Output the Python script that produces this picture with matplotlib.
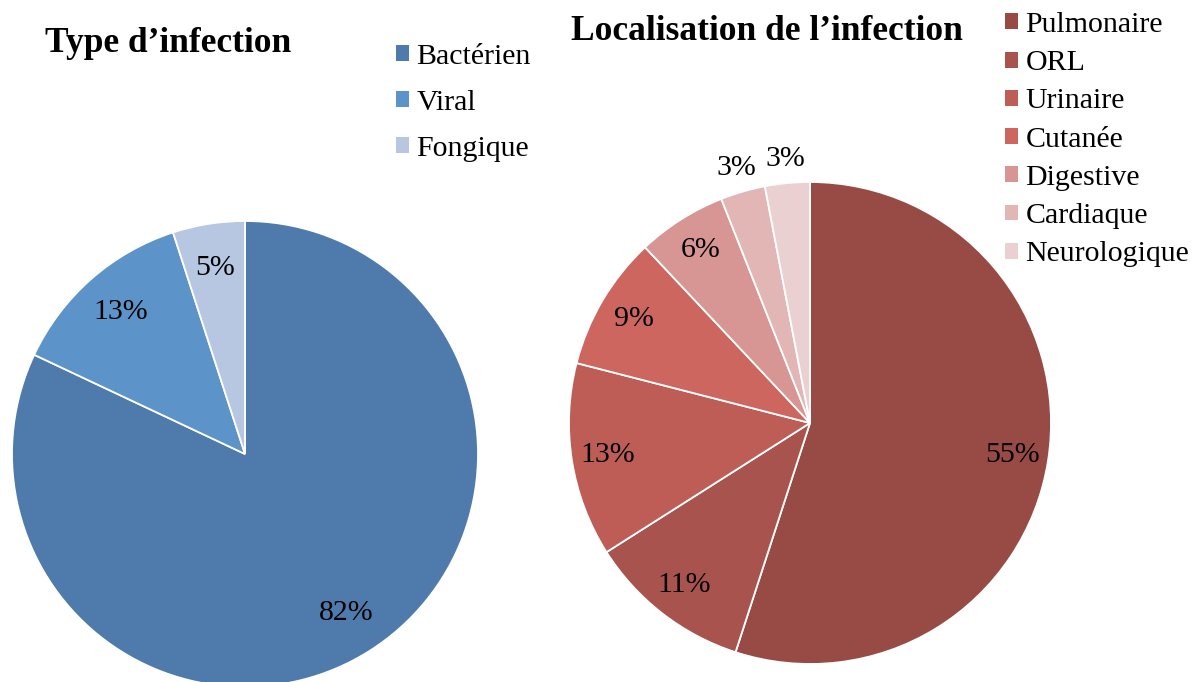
import numpy as np
import matplotlib.pyplot as plt
from matplotlib.patches import Patch

plt.rcParams['font.family'] = ['Liberation Serif', 'DejaVu Serif']

# data
type_labels = ['Bactérien', 'Viral', 'Fongique']
type_values = [82, 13, 5]
type_colors = ['#4F7BAC', '#5C94C9', '#B7C7E1']

loc_labels = ['Pulmonaire', 'ORL', 'Urinaire', 'Cutanée', 'Digestive', 'Cardiaque', 'Neurologique']
loc_values = [55, 11, 13, 9, 6, 3, 3]
loc_colors = ['#984A44', '#A9534E', '#BD5D56', '#CC665E', '#D79693', '#E1B6B5', '#EAD0D1']

W, H = 1200, 682
FS = 21.5
fig = plt.figure(figsize=(12, 6.82), dpi=100)

def pie_axes(cx, cy, r):
    ax = fig.add_axes([(cx - r) / W, (H - cy - r) / H, 2 * r / W, 2 * r / H])
    return ax

def fmt(p):
    return '%d%%' % round(p)

# left pie
ax1 = pie_axes(245, 454, 233)
w1, t1, a1 = ax1.pie(type_values, colors=type_colors, startangle=90, counterclock=False,
                     autopct=fmt, pctdistance=0.81, radius=1,
                     wedgeprops=dict(edgecolor='white', linewidth=1.3),
                     textprops=dict(fontsize=FS, color='black'))
ax1.set_xlim(-1, 1)
ax1.set_ylim(-1, 1)
ax1.set_aspect('auto')
ax1.axis('off')

# right pie
ax2 = pie_axes(810, 423, 241)
w2, t2, a2 = ax2.pie(loc_values, colors=loc_colors, startangle=90, counterclock=False,
                     autopct=fmt, pctdistance=0.85, radius=1,
                     wedgeprops=dict(edgecolor='white', linewidth=1.3),
                     textprops=dict(fontsize=FS, color='black'))
ax2.set_xlim(-1, 1)
ax2.set_ylim(-1, 1)
ax2.set_aspect('auto')
ax2.axis('off')
# small slices: labels outside
for w, t in zip(w2[-2:], a2[-2:]):
    ang = np.deg2rad((w.theta1 + w.theta2) / 2)
    t.set_position((1.1 * np.cos(ang), 1.1 * np.sin(ang)))

fig.text(168 / W, 1 - 44 / H, 'Type d\u2019infection', fontsize=25.5, fontweight='bold',
         ha='center', va='center')
fig.text(767 / W, 1 - 31 / H, 'Localisation de l\u2019infection', fontsize=25.5, fontweight='bold',
         ha='center', va='center')

h1 = [Patch(facecolor=c) for c in type_colors]
fig.legend(h1, type_labels, loc='upper left', bbox_to_anchor=(396 / W, 1 - 44 / H),
           frameon=False, fontsize=FS, handlelength=0.44, handleheight=0.44,
           handletextpad=0.25, labelspacing=0.67, borderpad=0, borderaxespad=0)

h2 = [Patch(facecolor=c) for c in loc_colors]
fig.legend(h2, loc_labels, loc='upper left', bbox_to_anchor=(1005 / W, 1 - 12 / H),
           frameon=False, fontsize=FS, handlelength=0.44, handleheight=0.44,
           handletextpad=0.25, labelspacing=0.41, borderpad=0, borderaxespad=0)

fig.savefig('out.png', dpi=100)
